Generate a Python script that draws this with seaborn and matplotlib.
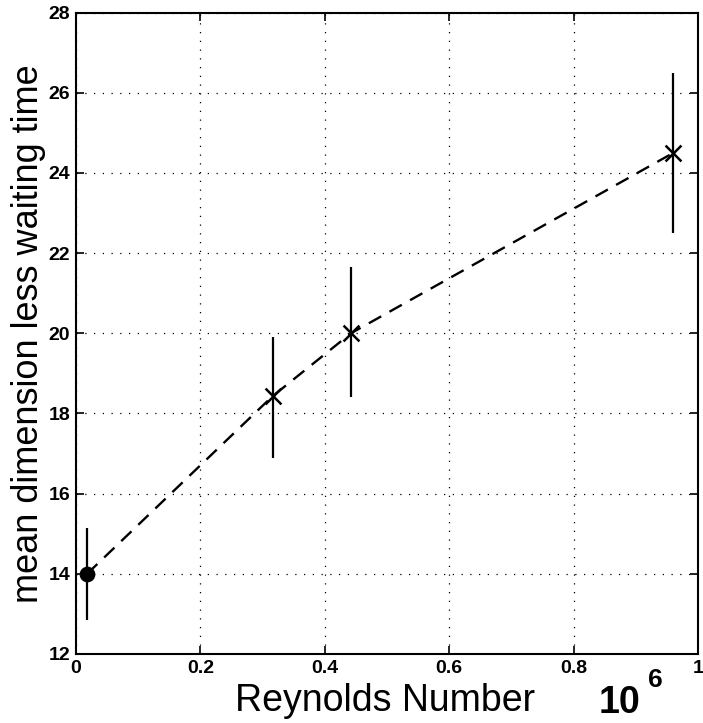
#!/usr/bin/env python3
"""Mean dimensionless waiting time against Reynolds number."""

import matplotlib as mpl
import matplotlib.pyplot as plt
import pandas as pd
import seaborn as sns

mpl.use('Agg')

# Values (Reynolds number in units of 10^6)
reynolds = [0.018, 0.316, 0.442, 0.960]
wait_mean = [14.0, 18.43, 20.0, 24.5]
wait_low = [12.85, 16.9, 18.4, 22.5]
wait_high = [15.15, 19.9, 21.65, 26.5]
x_ticks = [0, 0.2, 0.4, 0.6, 0.8, 1]
y_ticks = [12, 14, 16, 18, 20, 22, 24, 26, 28]

sns.set_theme(style="ticks")
plt.rcParams['font.family'] = ['Liberation Sans', 'DejaVu Sans']
plt.rcParams.update({'text.color': 'black', 'axes.labelcolor': 'black',
                     'xtick.color': 'black', 'ytick.color': 'black'})


def main():
    df = pd.DataFrame({"re": reynolds, "wait": wait_mean,
                       "lo": wait_low, "hi": wait_high})

    fig = plt.figure(figsize=(7.03, 7.23), dpi=100)
    ax = fig.add_axes([0.108, 0.0955, 0.885, 0.887])

    # Dotted MATLAB style grid
    ax.set_axisbelow(True)
    ax.grid(True, color="black", linestyle=(0, (1, 6)), linewidth=0.9)

    # Dashed curve through the means
    sns.lineplot(data=df, x="re", y="wait", ax=ax, color="black",
                 linewidth=1.7, dashes=False, linestyle=(0, (6, 4)))
    # Error bars without caps
    ax.vlines(df["re"], df["lo"], df["hi"], color="black", linewidth=1.6)
    # Markers: filled dot for first point, crosses for the rest
    sns.scatterplot(data=df.iloc[:1], x="re", y="wait", ax=ax, color="black",
                    s=110, marker="o", edgecolor="black", zorder=5)
    sns.scatterplot(data=df.iloc[1:], x="re", y="wait", ax=ax, color="black",
                    s=130, marker="x", linewidth=1.8, zorder=5)

    # Axes aesthetics
    ax.set_xlim(0, 1)
    ax.set_ylim(12, 28)
    ax.set_xticks(x_ticks)
    ax.set_yticks(y_ticks)
    ax.set_xticklabels(["0", "0.2", "0.4", "0.6", "0.8", "1"])
    ax.tick_params(axis="both", direction="in", length=6, width=1.2,
                   top=True, right=True, labelsize=14, pad=4)
    for lab in ax.get_xticklabels() + ax.get_yticklabels():
        lab.set_fontweight("bold")
    for spine in ax.spines.values():
        spine.set_linewidth(1.5)
        spine.set_color("black")
    ax.set_xlabel("Reynolds Number", fontsize=27)
    ax.set_ylabel("mean dimension less waiting time", fontsize=26, labelpad=2)
    ax.xaxis.set_label_coords(0.497, -0.045, transform=ax.transAxes)

    # Exponent of the x axis
    fig.text(0.852, 0.014, "10", fontsize=27, fontweight="bold")
    fig.text(0.922, 0.05, "6", fontsize=19, fontweight="bold")

    fig.savefig("out.png", dpi=100)
    plt.close(fig)


if __name__ == '__main__':
    main()
